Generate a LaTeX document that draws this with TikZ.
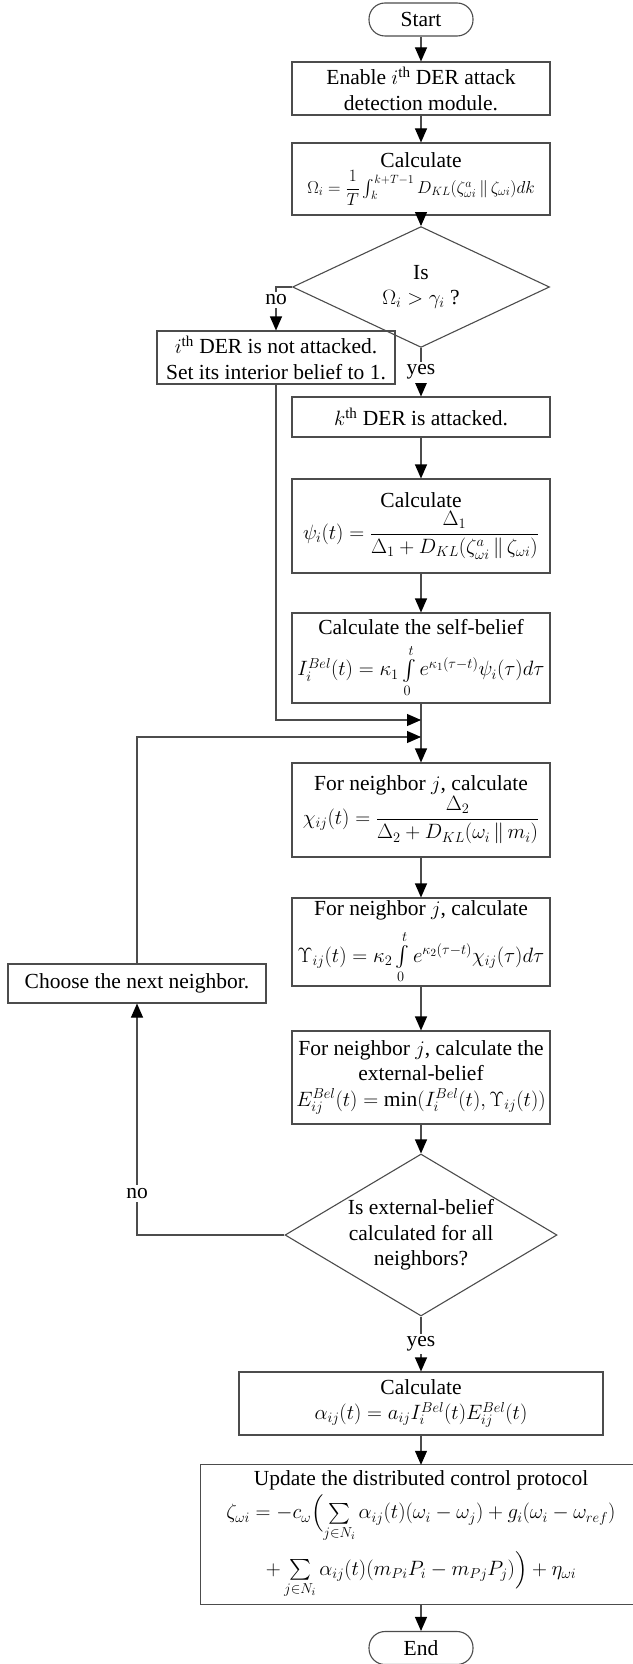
\documentclass[tikz,border=0pt]{standalone}
\usepackage{amsmath}
\usepackage{fontspec}
\setmainfont{Liberation Serif}
\usetikzlibrary{shapes.geometric,arrows.meta}

\begin{document}
\begin{tikzpicture}[x=1pt, y=-1pt,
  font=\fontsize{21.5}{25.5}\selectfont,
  box/.style={draw=black!70, line width=1.1pt, align=center, inner sep=2pt, minimum width=258pt},
  term/.style={draw=black!70, line width=1.1pt, rounded corners=16pt, minimum width=104pt, minimum height=33pt, inner sep=0pt},
  decision/.style={draw=black!70, line width=1.1pt, diamond, inner sep=0pt, align=center},
  arr/.style={draw=black!70, line width=1.1pt, -{Triangle[length=14pt,width=12pt,black]}},
  lbl/.style={fill=white, inner sep=3pt}]
  \useasboundingbox (0,0) rectangle (632,1664);

  % Detection of the attack
  \node[term] (start) at (421, 19.5) {Start};
  \node[box, minimum height=53pt] (enable) at (421, 88.5) {Enable $i$\textsuperscript{th} DER attack\\detection module.};
  \node[box, minimum height=72pt] (calcOmega) at (421, 179) {Calculate\\{\fontsize{18}{20}\selectfont $\Omega_i=\dfrac{1}{T}\int_k^{k+T-1}D_{KL}(\zeta_{\omega i}^{a}\,\|\,\zeta_{\omega i})dk$}};
  \node[decision, minimum width=257pt, minimum height=84pt] (dec1) at (421, 287) {Is\\$\Omega_i>\gamma_i$ ?};
  \node[box, minimum width=238pt, minimum height=53pt] (notAtt) at (276, 357.5) {$i$\textsuperscript{th} DER is not attacked.\\Set its interior belief to 1.};
  \node[box, minimum height=40pt] (att) at (421, 417) {$k$\textsuperscript{th} DER is attacked.};
  \node[box, minimum height=94pt] (calcPsi) at (421, 526) {Calculate\\[2pt]$\psi_i(t)=\dfrac{\Delta_1}{\Delta_1+D_{KL}(\zeta_{\omega i}^{a}\,\|\,\zeta_{\omega i})}$};
  \node[box, minimum height=90pt] (selfBel) at (421, 658) {Calculate the self-belief\\[9pt]$I_i^{Bel}(t)=\kappa_1\int\limits_0^t e^{\kappa_1(\tau-t)}\psi_i(\tau)d\tau$};

  % Beliefs of the neighbors
  \coordinate (mergeA) at (421, 720);
  \coordinate (mergeB) at (421, 737);
  \node[box, minimum height=94pt] (calcChi) at (421, 810) {For neighbor $j$, calculate\\$\chi_{ij}(t)=\dfrac{\Delta_2}{\Delta_2+D_{KL}(\omega_i\,\|\,m_i)}$};
  \node[box, minimum height=88pt] (calcUps) at (421, 942) {For neighbor $j$, calculate\\[9pt]$\Upsilon_{ij}(t)=\kappa_2\int\limits_0^t e^{\kappa_2(\tau-t)}\chi_{ij}(\tau)d\tau$};
  \node[box, minimum height=39pt] (nextNb) at (137, 983.5) {Choose the next neighbor.};
  \node[box, minimum height=93pt] (extBel) at (421, 1077.5) {For neighbor $j$, calculate the\\external-belief\\$E_{ij}^{Bel}(t)=\min(I_i^{Bel}(t),\Upsilon_{ij}(t))$};
  \node[decision, minimum width=272pt, minimum height=162pt,
    label={[align=center]center:Is external-belief\\calculated for all\\neighbors?}] (dec2) at (421, 1235) {};

  % Update of the protocol
  \node[box, minimum width=364pt, minimum height=63pt] (calcAlpha) at (421, 1403.5) {Calculate\\$\alpha_{ij}(t)=a_{ij}I_i^{Bel}(t)E_{ij}^{Bel}(t)$};
  \node[align=center, minimum width=440pt, minimum height=139pt, inner sep=2pt] (update) at (421, 1534.5) {Update the distributed control protocol\\[4pt]$\zeta_{\omega i}=-c_{\omega}\Bigl(\sum\limits_{j\in N_i}\alpha_{ij}(t)(\omega_i-\omega_j)+g_i(\omega_i-\omega_{ref})$\\[8pt]$+\sum\limits_{j\in N_i}\alpha_{ij}(t)(m_{Pi}P_i-m_{Pj}P_j)\Bigr)+\eta_{\omega i}$};
  \draw[draw=black!70, line width=1.1pt] (update.north west) rectangle ([xshift=40pt]update.south east);
  \node[term] (endT) at (421, 1648) {End};

  % Connectors
  \draw[arr] (start) -- (enable);
  \draw[arr] (enable) -- (calcOmega);
  \draw[arr] (calcOmega) -- (dec1);
  \draw[arr] (dec1.west) -| node[lbl, pos=0.65] {no} (notAtt.north);
  \draw[arr] (dec1.south) -- node[lbl] {yes} (att.north);
  \draw[arr] (att) -- (calcPsi);
  \draw[arr] (calcPsi) -- (selfBel);
  \draw[arr] (selfBel) -- (calcChi);
  \draw[arr] (notAtt.south) |- (mergeA);
  \draw[arr] (calcChi) -- (calcUps);
  \draw[arr] (calcUps) -- (extBel);
  \draw[arr] (extBel) -- (dec2);
  \draw[arr] (dec2.west) -| node[lbl, pos=0.59] {no} (nextNb.south);
  \draw[arr] (nextNb.north) |- (mergeB);
  \draw[arr] (dec2.south) -- node[lbl] {yes} (calcAlpha.north);
  \draw[arr] (calcAlpha) -- (update);
  \draw[arr] (update) -- (endT);
\end{tikzpicture}
\end{document}
